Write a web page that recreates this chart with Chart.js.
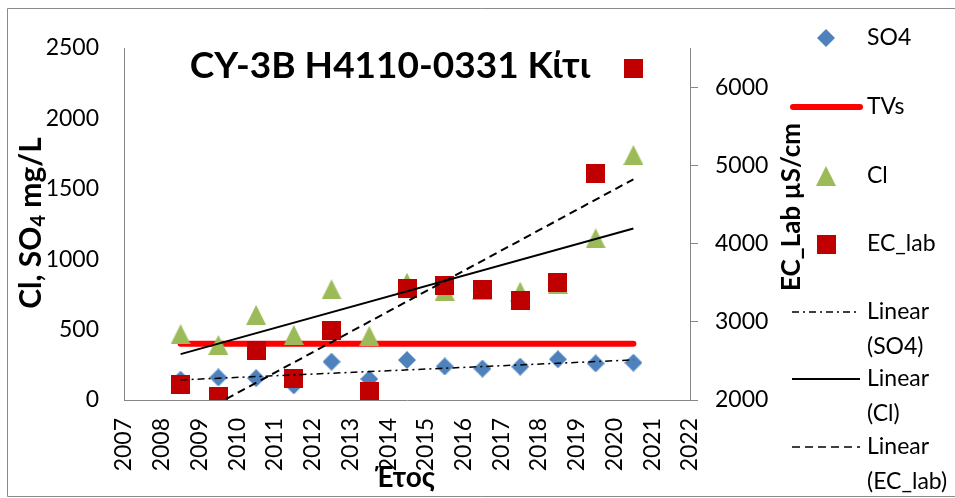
<!DOCTYPE html>
<html>
<head>
<meta charset="utf-8">
<script src="https://cdn.jsdelivr.net/npm/chart.js@4.4.1/dist/chart.umd.min.js"></script>
<style>
  html, body { margin: 0; padding: 0; background: #ffffff; }
  #wrap { position: relative; width: 955px; height: 498px; overflow: hidden; }
  canvas { display: block; }
</style>
</head>
<body>
<div id="wrap"><canvas id="chart" width="955" height="498"></canvas></div>
<script>
// ---------------- data ----------------
const years = [2008.5, 2009.5, 2010.5, 2011.5, 2012.5, 2013.5, 2014.5, 2015.5, 2016.5, 2017.5, 2018.5, 2019.5, 2020.5];
const so4   = [144, 160, 155, 104, 272, 149, 284, 238, 223, 237, 289, 260, 265];
const cl    = [467, 391, 604, 462, 786, 455, 833, 776, 781, 769, 824, 1148, 1740];
const ecLab = [2198, 2051, 2627, 2277, 2892, 2115, 3430, 3465, 3417, 3276, 3502, 4901, 6233];
const tvsYears = [2008.5, 2020.5];
const tvsValues = [400, 400];

const xRange = [2007, 2022];
const xStep = 1;
const leftRange = [0, 2500];
const leftStep = 500;
const rightRange = [2000, 6500];
const rightTicks = [2000, 3000, 4000, 5000, 6000];

const chartTitle = 'CY-3B H4110-0331 Κίτι';
const xTitle = 'Έτος';
const leftTitleParts = ['Cl, SO', '4', ' mg/L'];
const rightTitle = 'EC_Lab µS/cm';
const legendNames = ['SO4', 'TVs', 'Cl', 'EC_lab', ['Linear', '(SO4)'], ['Linear', '(Cl)'], ['Linear', '(EC_lab)']];

// ---------------- styles ----------------
const FONT = "Lato, 'Open Sans', sans-serif";
const BLUE = '#4F81BD', GREEN = '#9BBB59', DARKRED = '#C00000', RED = '#FF0000';
const AXIS = '#868686';
const DASH_SO4 = [7, 4, 2, 4], DASH_EC = [8, 5];

function pts(xs, ys) { return xs.map((x, i) => ({ x: x, y: ys[i] })); }

// least-squares linear trend (as Excel's "Linear" trendline)
function linFit(xs, ys) {
  const n = xs.length;
  let sx = 0, sy = 0, sxx = 0, sxy = 0;
  for (let i = 0; i < n; i++) { sx += xs[i]; sy += ys[i]; sxx += xs[i] * xs[i]; sxy += xs[i] * ys[i]; }
  const b = (n * sxy - sx * sy) / (n * sxx - sx * sx);
  const a = (sy - b * sx) / n;
  return [{ x: xs[0], y: a + b * xs[0] }, { x: xs[n - 1], y: a + b * xs[n - 1] }];
}

function makeMarker(kind, size, color) {
  const c = document.createElement('canvas');
  c.width = size; c.height = size;
  const g = c.getContext('2d');
  g.fillStyle = color;
  g.beginPath();
  if (kind === 'diamond') {
    g.moveTo(size / 2, 0); g.lineTo(size, size / 2); g.lineTo(size / 2, size); g.lineTo(0, size / 2);
  } else if (kind === 'triangle') {
    g.moveTo(size / 2, 0); g.lineTo(size, size); g.lineTo(0, size);
  } else {
    g.rect(0, 0, size, size);
  }
  g.closePath();
  g.fill();
  return c;
}
const diamondImg = makeMarker('diamond', 18, BLUE);
const triImg = makeMarker('triangle', 20, GREEN);
const squareImg = makeMarker('square', 19, DARKRED);

// ---------------- decorations: titles, legend, frame ----------------
const decor = {
  id: 'decor',
  afterDraw(chart) {
    const ctx = chart.ctx;
    ctx.save();
    // outer frame
    ctx.strokeStyle = '#8a8a8a';
    ctx.lineWidth = 1;
    ctx.beginPath();
    ctx.moveTo(960, 8.5); ctx.lineTo(7.5, 8.5); ctx.lineTo(7.5, 496.5); ctx.lineTo(960, 496.5);
    ctx.stroke();

    ctx.fillStyle = '#000';
    // chart title
    ctx.font = 'bold 37px ' + FONT;
    ctx.textAlign = 'center';
    ctx.textBaseline = 'alphabetic';
    ctx.fillText(chartTitle, 390, 78);

    // x axis title
    ctx.font = 'bold 28px ' + FONT;
    ctx.fillText(xTitle, 405, 487);

    // left axis title with subscript
    ctx.save();
    ctx.translate(41, 223);
    ctx.rotate(-Math.PI / 2);
    const bigF = 'bold 30px ' + FONT, smallF = 'bold 20px ' + FONT;
    ctx.font = bigF; const w0 = ctx.measureText(leftTitleParts[0]).width;
    const w2 = ctx.measureText(leftTitleParts[2]).width;
    ctx.font = smallF; const w1 = ctx.measureText(leftTitleParts[1]).width;
    let sx = -(w0 + w1 + w2) / 2;
    ctx.textAlign = 'left';
    ctx.font = bigF; ctx.fillText(leftTitleParts[0], sx, 0); sx += w0;
    ctx.font = smallF; ctx.fillText(leftTitleParts[1], sx, 4); sx += w1;
    ctx.font = bigF; ctx.fillText(leftTitleParts[2], sx, 0);
    ctx.restore();

    // right axis title
    ctx.save();
    ctx.translate(800, 207);
    ctx.rotate(-Math.PI / 2);
    ctx.font = 'bold 26px ' + FONT;
    ctx.textAlign = 'center';
    ctx.fillText(rightTitle, 0, 0);
    ctx.restore();

    // legend
    ctx.font = '23px ' + FONT;
    ctx.textAlign = 'left';
    ctx.textBaseline = 'middle';
    const tx = 867, mx = 826;
    const rows = [38, 107, 176, 244, 312, 379, 447];
    const sub = 35;
    ctx.drawImage(diamondImg, mx - 9, rows[0] - 9);
    ctx.fillText(legendNames[0], tx, rows[0]);
    ctx.strokeStyle = RED; ctx.lineWidth = 6; ctx.lineCap = 'round';
    ctx.beginPath(); ctx.moveTo(793, rows[1]); ctx.lineTo(860, rows[1]); ctx.stroke();
    ctx.fillText(legendNames[1], tx, rows[1]);
    ctx.drawImage(triImg, mx - 10, rows[2] - 10);
    ctx.fillText(legendNames[2], tx, rows[2]);
    ctx.drawImage(squareImg, mx - 9.5, rows[3] - 9.5);
    ctx.fillText(legendNames[3], tx, rows[3]);
    const dashes = [DASH_SO4, [], DASH_EC];
    ctx.lineCap = 'butt';
    ctx.strokeStyle = '#000';
    for (let k = 0; k < 3; k++) {
      const y = rows[4 + k];
      ctx.lineWidth = k === 1 ? 2 : 1.5;
      ctx.setLineDash(dashes[k]);
      ctx.beginPath(); ctx.moveTo(792, y); ctx.lineTo(860, y); ctx.stroke();
      ctx.setLineDash([]);
      ctx.fillText(legendNames[4 + k][0], tx, y);
      ctx.fillText(legendNames[4 + k][1], tx, y + sub);
    }
    ctx.restore();
  }
};

const tickFont = { family: FONT, size: 23 };

new Chart(document.getElementById('chart'), {
  type: 'scatter',
  data: {
    datasets: [
      { label: 'Linear (EC_lab)', data: linFit(years, ecLab), yAxisID: 'y1', showLine: true,
        borderColor: '#000', borderWidth: 2, borderDash: DASH_EC, pointRadius: 0, order: 0 },
      { label: 'Linear (Cl)', data: linFit(years, cl), yAxisID: 'y', showLine: true,
        borderColor: '#000', borderWidth: 2, pointRadius: 0, order: 1 },
      { label: 'Linear (SO4)', data: linFit(years, so4), yAxisID: 'y', showLine: true,
        borderColor: '#000', borderWidth: 1.5, borderDash: DASH_SO4, pointRadius: 0, order: 2 },
      { label: 'EC_lab', data: pts(years, ecLab), yAxisID: 'y1', pointStyle: squareImg, pointRadius: 10, order: 3 },
      { label: 'Cl', data: pts(years, cl), yAxisID: 'y', pointStyle: triImg, pointRadius: 10, order: 4 },
      { label: 'TVs', data: pts(tvsYears, tvsValues), yAxisID: 'y', showLine: true,
        borderColor: RED, borderWidth: 6, borderCapStyle: 'round', pointRadius: 0, order: 5 },
      { label: 'SO4', data: pts(years, so4), yAxisID: 'y', pointStyle: diamondImg, pointRadius: 9, order: 6 }
    ]
  },
  options: {
    responsive: false,
    animation: false,
    devicePixelRatio: 1,
    layout: { padding: { top: 48, left: 0, right: 0, bottom: 0 } },
    plugins: { legend: { display: false }, tooltip: { enabled: false }, title: { display: false } },
    scales: {
      x: {
        type: 'linear', position: 'bottom', min: xRange[0], max: xRange[1],
        ticks: { stepSize: xStep, autoSkip: false, minRotation: 90, maxRotation: 90, padding: 18,
                 font: tickFont, color: '#000', callback: v => String(v) },
        grid: { display: false, drawTicks: false },
        border: { display: true, color: AXIS, width: 1 },
        afterFit: s => { s.height = 98; }
      },
      y: {
        type: 'linear', position: 'left', min: leftRange[0], max: leftRange[1],
        ticks: { stepSize: leftStep, padding: 25, font: tickFont, color: '#000', callback: v => String(v) },
        grid: { display: false, drawTicks: false },
        border: { display: true, color: AXIS, width: 1 },
        afterFit: s => { s.width = 124; }
      },
      y1: {
        type: 'linear', position: 'right', min: rightRange[0], max: rightRange[1],
        afterBuildTicks: s => { s.ticks = rightTicks.map(v => ({ value: v })); },
        ticks: { padding: 17, font: tickFont, color: '#000', callback: v => String(v) },
        grid: { display: true, drawOnChartArea: false, drawTicks: true, tickLength: 8, color: AXIS, lineWidth: 1 },
        border: { display: true, color: AXIS, width: 1 },
        afterFit: s => { s.width = 265; }
      }
    }
  },
  plugins: [decor]
});
</script>
</body>
</html>
